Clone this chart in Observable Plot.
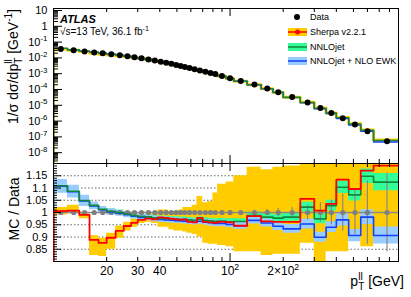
<!DOCTYPE html>
<html><head><meta charset="utf-8">
<script src="https://cdn.jsdelivr.net/npm/d3@7"></script>
<script src="https://cdn.jsdelivr.net/npm/@observablehq/plot@0.6"></script>
<style>
html,body{margin:0;padding:0;background:#fff;}
#chart{position:relative;width:411px;height:297px;overflow:hidden;background:#fff;}
#chart svg{position:absolute;left:0;}
</style></head><body><div id="chart"></div>
<script>
// ---- data (pT^ll bins in GeV) ----
const binEdges = [10,12,14,16,18,20,22.5,25,27.5,30,33,36,39,42,45,48,51,54,57,61,65,70,75,80,85,95,105,125,150,175,200,250,300,350,400,470,550,650,900];
const dataValues = [0.036,0.030,0.0255,0.0222,0.0194,0.0170,0.0148,0.0128,0.0110,0.0094,0.0080,0.0068,0.0058,0.0049,0.0042,0.0036,0.0031,0.0027,0.0023,0.0019,0.00162,0.00134,0.00112,0.00095,0.00071,0.00052,0.00035,0.000205,0.000115,6.8e-5,3.3e-5,1.5e-5,6.8e-6,3.2e-6,1.5e-6,6.2e-7,2.3e-7,5.3e-8];
const dataRelErr = [0.004,0.004,0.004,0.004,0.004,0.004,0.004,0.004,0.004,0.004,0.004,0.004,0.005,0.005,0.005,0.005,0.005,0.005,0.005,0.005,0.006,0.006,0.006,0.006,0.006,0.007,0.007,0.009,0.012,0.016,0.02,0.03,0.04,0.05,0.075,0.09,0.13,0.16];
const sherpaRatio = [1.006,1.008,0.99,0.888,0.876,0.897,0.925,0.945,0.958,0.97,0.975,0.972,0.98,0.978,0.975,0.972,0.970,0.972,0.962,0.960,0.978,0.962,0.960,0.958,0.962,0.960,0.946,0.985,0.964,0.962,0.962,1.056,1.008,1.035,1.134,1.096,1.171,1.191];
const sherpaLow  = [0.99,0.995,0.975,0.825,0.82,0.85,0.895,0.925,0.94,0.955,0.96,0.955,0.94,0.94,0.93,0.925,0.925,0.92,0.915,0.91,0.90,0.875,0.87,0.87,0.865,0.86,0.84,0.84,0.825,0.83,0.83,0.875,0.80,0.84,0.84,0.90,0.86,0.90];
const sherpaHigh = [1.02,1.03,1.0,0.905,0.895,0.915,0.945,0.96,0.975,0.99,0.99,1.0,1.01,1.01,1.0,1.005,1.01,1.02,1.02,1.03,1.065,1.04,1.045,1.08,1.115,1.125,1.15,1.185,1.175,1.185,1.19,1.2,1.2,1.2,1.2,1.2,1.2,1.2];
const nnloRatio = [1.109,1.087,1.049,1.029,1.013,1.005,1.0,0.994,0.988,0.984,0.982,0.978,0.976,0.975,0.974,0.973,0.972,0.972,0.970,0.968,0.972,0.968,0.966,0.964,0.965,0.962,0.963,0.988,0.981,0.977,0.981,1.022,0.974,1.028,1.103,1.072,1.148,1.124];
const nnloErr = [0.016,0.015,0.013,0.011,0.01,0.01,0.01,0.01,0.01,0.01,0.01,0.01,0.01,0.01,0.01,0.01,0.01,0.01,0.01,0.01,0.011,0.011,0.011,0.011,0.011,0.012,0.012,0.013,0.014,0.015,0.017,0.02,0.02,0.022,0.025,0.025,0.03,0.035];
const ewkRatio = [1.107,1.085,1.047,1.027,1.011,1.002,0.997,0.991,0.985,0.980,0.978,0.974,0.972,0.970,0.969,0.967,0.966,0.965,0.963,0.961,0.964,0.960,0.958,0.955,0.955,0.951,0.946,0.968,0.957,0.944,0.933,0.953,0.899,0.940,0.970,0.906,0.981,0.906];
const ewkErr = [0.028,0.026,0.023,0.016,0.014,0.013,0.012,0.012,0.012,0.012,0.012,0.012,0.012,0.012,0.012,0.012,0.012,0.012,0.012,0.012,0.012,0.012,0.013,0.013,0.013,0.013,0.014,0.015,0.016,0.017,0.018,0.02,0.02,0.022,0.025,0.025,0.03,0.035];
const topYLabels = [10,1,0.1,0.01,1e-3,1e-4,1e-5,1e-6,1e-7,1e-8];
const ratioYLabels = [0.85,0.9,0.95,1,1.05,1.1,1.15];
const ratioGrid = [0.85,0.9,0.95,1.05,1.1,1.15];
const xLabelTicks = [20,30,40,100,200];
const xLabelText = {20:"20",30:"30",40:"40",100:"10^{2}",200:"2×10^{2}"};
const legendItems = ["Data","Sherpa v2.2.1","NNLOjet","NNLOjet + NLO EWK"];

// ---- colours / layout ----
const C = {yellow:"#ffcc00", red:"#ff0000", green:"#33ff99", greenLine:"#11883a", blue:"#99ccff", blueLine:"#1240ff", grey:"#7f7f7f"};
const FONT = '"Liberation Sans", Arial, Helvetica, sans-serif';
const W = 411, ML = 53, MR = 13;
const plotW = W - ML - MR;
const topH = 163, topMT = 8, topPH = topH - topMT;
const botTop = 163, botH = 134, botMB = 36, botPH = botH - botMB;
const yTopDomain = [2.07e-9, 13.4];
const xDomain = [10, 900];
const centers = dataValues.map((_, i) => (binEdges[i] + binEdges[i + 1]) / 2);

function steps(vals, base) {
  const pts = [{x: binEdges[0], y: base}];
  vals.forEach((v, i) => pts.push({x: binEdges[i], y: v}));
  pts.push({x: binEdges[vals.length], y: vals[vals.length - 1]});
  return pts;
}
function band(lo, hi) {
  const pts = lo.map((l, i) => ({x: binEdges[i], lo: l, hi: hi[i]}));
  pts.push({x: binEdges[lo.length], lo: lo[lo.length - 1], hi: hi[hi.length - 1]});
  return pts;
}
// tick positions
const xMajor = [100], xMinor = [20,30,40,50,60,70,80,90,200,300,400,500,600,700,800];
const yTopMajor = [], yTopMinor = [];
for (let e = -9; e <= 1; e++) {
  const b = Math.pow(10, e);
  if (b > yTopDomain[0] && b < yTopDomain[1]) yTopMajor.push(b);
  for (let k = 2; k <= 9; k++) { const v = k * b; if (v > yTopDomain[0] && v < yTopDomain[1]) yTopMinor.push(v); }
}
const rMajor = [0.85,0.9,0.95,1,1.05,1.1,1.15];
const rMinor = [];
for (let k = 81; k < 120; k++) if (k % 5) rMinor.push(k / 100);

const fmtPow = d => { const e = Math.round(Math.log10(d)); return e === 1 ? "10" : e === 0 ? "1" : `10^{${e}}`; };
const mc = (ratio) => dataValues.map((v, i) => v * ratio[i]);

const topPlot = Plot.plot({
  width: W, height: topH, marginTop: topMT, marginBottom: 0, marginLeft: ML, marginRight: MR,
  style: {fontFamily: FONT, fontSize: "11px", overflow: "visible", background: "transparent", color: "#000"},
  x: {type: "log", domain: xDomain, axis: null},
  y: {type: "log", domain: yTopDomain, axis: null},
  marks: [
    Plot.line(steps(mc(sherpaRatio), yTopDomain[0]), {x: "x", y: "y", curve: "step-after", stroke: C.yellow, strokeWidth: 3, clip: true}),
    Plot.line(steps(mc(ewkRatio), yTopDomain[0]), {x: "x", y: "y", curve: "step-after", stroke: C.blueLine, strokeWidth: 1.4, clip: true}),
    Plot.line(steps(mc(nnloRatio), yTopDomain[0]), {x: "x", y: "y", curve: "step-after", stroke: C.greenLine, strokeWidth: 1.4, clip: true}),
    Plot.dot(dataValues.map((v, i) => ({x: centers[i], y: v})), {x: "x", y: "y", r: 3, fill: "#000", stroke: "none"}),
    Plot.tickY(yTopMajor, {y: d => d, insetRight: plotW - 9, stroke: "#000"}),
    Plot.tickY(yTopMinor, {y: d => d, insetRight: plotW - 5, stroke: "#000"}),
    Plot.tickX(xMajor, {x: d => d, insetTop: topPH - 8, stroke: "#000"}),
    Plot.tickX(xMinor, {x: d => d, insetTop: topPH - 4, stroke: "#000"}),
    Plot.tickX(xMajor, {x: d => d, insetBottom: topPH - 8, stroke: "#000"}),
    Plot.tickX(xMinor, {x: d => d, insetBottom: topPH - 4, stroke: "#000"}),
    Plot.frame({stroke: "#000"}),
    Plot.axisY({ticks: topYLabels, tickSize: 0, tickPadding: 6, tickFormat: fmtPow, label: null})
  ]
});

const botPlot = Plot.plot({
  width: W, height: botH, marginTop: 0, marginBottom: botMB, marginLeft: ML, marginRight: MR,
  style: {fontFamily: FONT, fontSize: "11px", overflow: "visible", background: "transparent", color: "#000"},
  x: {type: "log", domain: xDomain, axis: null},
  y: {domain: [0.8, 1.2], axis: null},
  marks: [
    Plot.ruleY(ratioGrid, {stroke: "#555", strokeWidth: 0.9, strokeDasharray: "1.5,2"}),
    Plot.areaY(band(sherpaLow, sherpaHigh), {x: "x", y1: "lo", y2: "hi", curve: "step-after", fill: C.yellow, clip: true}),
    Plot.areaY(band(nnloRatio.map((r, i) => r - nnloErr[i]), nnloRatio.map((r, i) => r + nnloErr[i])), {x: "x", y1: "lo", y2: "hi", curve: "step-after", fill: C.green, clip: true}),
    Plot.areaY(band(ewkRatio.map((r, i) => r - ewkErr[i]), ewkRatio.map((r, i) => r + ewkErr[i])), {x: "x", y1: "lo", y2: "hi", curve: "step-after", fill: C.blue, clip: true}),
    Plot.ruleY([1], {stroke: "#8a8a8a", strokeWidth: 1.3}),
    Plot.ruleX(centers.map((c, i) => ({x: c, lo: 1 - dataRelErr[i], hi: 1 + dataRelErr[i]})), {x: "x", y1: "lo", y2: "hi", stroke: "#888", strokeWidth: 1.2, clip: true}),
    Plot.dot(centers, {x: d => d, y: () => 1, r: 2.6, fill: C.grey, stroke: "none"}),
    Plot.line(steps(ewkRatio, 0.8), {x: "x", y: "y", curve: "step-after", stroke: C.blueLine, strokeWidth: 1.6, clip: true}),
    Plot.line(steps(nnloRatio, 0.8), {x: "x", y: "y", curve: "step-after", stroke: C.greenLine, strokeWidth: 1.6, clip: true}),
    Plot.frame({stroke: "#000"}),
    Plot.line(steps(sherpaRatio, 0.8), {x: "x", y: "y", curve: "step-after", stroke: C.red, strokeWidth: 1.8, clip: true}),
    Plot.tickY(rMajor, {y: d => d, insetRight: plotW - 8, stroke: "#000"}),
    Plot.tickY(rMinor, {y: d => d, insetRight: plotW - 4, stroke: "#000"}),
    Plot.tickX(xMajor, {x: d => d, insetTop: botPH - 8, stroke: "#000"}),
    Plot.tickX(xMinor, {x: d => d, insetTop: botPH - 4, stroke: "#000"}),
    Plot.tickX(xMajor, {x: d => d, insetBottom: botPH - 8, stroke: "#000"}),
    Plot.tickX(xMinor, {x: d => d, insetBottom: botPH - 4, stroke: "#000"}),
    Plot.axisY({ticks: ratioYLabels, tickSize: 0, tickPadding: 6, tickFormat: d => String(d), label: null}),
    Plot.axisX({ticks: xLabelTicks, tickSize: 0, tickPadding: 5, tickFormat: d => xLabelText[d], label: null, fontSize: 12})
  ]
});

const chart = document.getElementById("chart");
topPlot.style.top = "0px";
botPlot.style.top = botTop + "px";
chart.appendChild(topPlot);
chart.appendChild(botPlot);

// ---- overlay: titles, labels, legend ----
const ov = d3.select(chart).append("svg").attr("width", W).attr("height", 297)
  .style("position", "absolute").style("top", 0).style("left", 0).style("font-family", FONT).style("overflow", "visible");
ov.append("text").attr("transform", "translate(18,9) rotate(-90)").attr("text-anchor", "end").attr("font-size", 14)
  .text("1/σ dσ/dp_^{T}{ll} [GeV^{-1}]");
ov.append("text").attr("transform", "translate(19,209) rotate(-90)").attr("text-anchor", "middle").attr("font-size", 14)
  .text("MC / Data");
ov.append("text").attr("x", 404).attr("y", 286).attr("text-anchor", "end").attr("font-size", 14)
  .text("p_^{T}{ll} [GeV]");
ov.append("text").attr("x", 60).attr("y", 23).attr("font-size", 11).attr("font-weight", "bold").attr("font-style", "italic")
  .text("ATLAS");
ov.append("text").attr("x", 60).attr("y", 35).attr("font-size", 10)
  .text("√s=13 TeV, 36.1 fb^{-1}");
// legend
const lg = ov.append("g").attr("font-size", 9);
const rows = [17, 32, 47, 61];
lg.append("circle").attr("cx", 297).attr("cy", rows[0]).attr("r", 3).attr("fill", "#000");
const sw = [[C.yellow, C.red], [C.green, C.greenLine], [C.blue, C.blueLine]];
sw.forEach(([f, s], i) => {
  const y = rows[i + 1];
  lg.append("rect").attr("x", 288).attr("y", y - 4).attr("width", 19).attr("height", 8).attr("fill", f);
  lg.append("line").attr("x1", 288).attr("x2", 307).attr("y1", y).attr("y2", y).attr("stroke", s).attr("stroke-width", 1.5);
  if (i === 0) lg.append("circle").attr("cx", 297.5).attr("cy", y).attr("r", 2.5).attr("fill", C.red);
});
legendItems.forEach((t, i) => lg.append("text").attr("x", 310).attr("y", rows[i]).attr("dy", "0.35em").text(t));

// ---- rich text (super/subscripts) ----
function richify(root) {
  const NS = "http://www.w3.org/2000/svg";
  root.querySelectorAll("text").forEach(t => {
    const s = t.textContent;
    if (!/[\^_]\{/.test(s) || t.querySelector("tspan")) return;
    const fs = parseFloat(getComputedStyle(t).fontSize) || 11;
    t.textContent = "";
    let shift = 0, pdx = 0;
    const add = (txt, off, small) => {
      const ts = document.createElementNS(NS, "tspan");
      ts.textContent = txt;
      const dy = off - shift;
      if (dy) ts.setAttribute("dy", dy);
      shift = off;
      if (small) ts.setAttribute("font-size", (fs * 0.72) + "px");
      if (pdx) { ts.setAttribute("dx", pdx); pdx = 0; }
      t.appendChild(ts);
      return ts;
    };
    const re = /_\^\{([^}]*)\}\{([^}]*)\}|\^\{([^}]*)\}|_\{([^}]*)\}/g;
    let last = 0, m;
    while ((m = re.exec(s))) {
      if (m.index > last) add(s.slice(last, m.index), 0, false);
      if (m[1] !== undefined) {
        const sup = add(m[2], -0.42 * fs, true);
        const wsup = sup.getComputedTextLength();
        pdx = -wsup;
        const sub = add(m[1], 0.3 * fs, true);
        const wsub = sub.getComputedTextLength();
        pdx = Math.max(0, wsup - wsub);
      } else if (m[3] !== undefined) {
        add(m[3], -0.42 * fs, true);
      } else {
        add(m[4], 0.3 * fs, true);
      }
      last = re.lastIndex;
    }
    if (last < s.length) add(s.slice(last), 0, false);
  });
}
richify(chart);
</script></body></html>
